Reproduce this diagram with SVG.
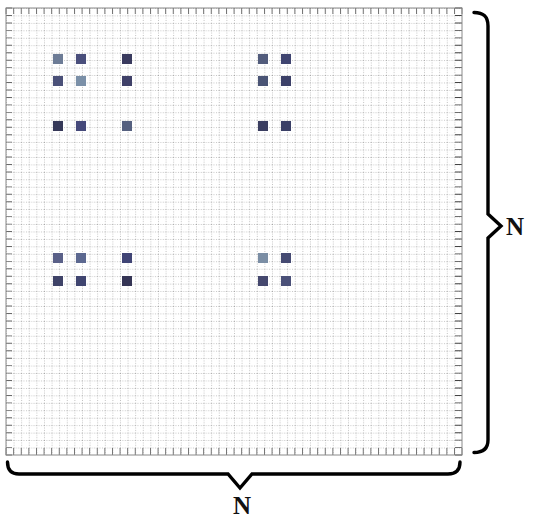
<svg xmlns="http://www.w3.org/2000/svg" width="534" height="522" viewBox="0 0 534 522">
<style>
.dot{stroke:#858585;stroke-width:0.7;stroke-dasharray:0.8 1.6;fill:none}
.tick{stroke:#6a6a6a;fill:none;stroke-dasharray:0.9 6.7}
.tickh{stroke:#6a6a6a;fill:none;stroke-dasharray:0.9 6.55}
.brace{stroke:#000;stroke-width:3.4;fill:none;stroke-linecap:round;stroke-linejoin:miter}
.lbl{font-family:"Liberation Serif","Times New Roman",serif;font-weight:bold;font-size:25px;fill:#111}
.sq rect{width:10px;height:10px}
</style>
<defs>
<pattern id="grid" patternUnits="userSpaceOnUse" x="6" y="8" width="7.6" height="7.45">
<line x1="0.3" y1="0" x2="0.3" y2="7.45" class="dot"/>
<line x1="0" y1="0.3" x2="7.6" y2="0.3" class="dot"/>
</pattern>
</defs>
<rect width="534" height="522" fill="#fff"/>
<g id="grid-board">
<rect x="6" y="8" width="456" height="447" fill="url(#grid)"/>
<line class="tick" x1="5.6" y1="11" x2="462.4" y2="11" stroke-width="6"/>
<line class="tick" x1="5.6" y1="451.5" x2="462.4" y2="451.5" stroke-width="7"/>
<line class="tickh" x1="9" y1="7.6" x2="9" y2="455.4" stroke-width="6"/>
<line class="tickh" x1="458.5" y1="7.6" x2="458.5" y2="455.4" stroke-width="7" style="stroke:#444"/>
<rect x="6" y="8" width="456" height="447" fill="none" stroke="#8a8a8a" stroke-width="1"/>
</g>
<g id="cells" class="sq">
<rect x="53" y="54" fill="#6d7c96"/>
<rect x="76" y="54" fill="#4a4f7c"/>
<rect x="122" y="54" fill="#393a5e"/>
<rect x="258" y="54" fill="#525c7c"/>
<rect x="281" y="54" fill="#3f4470"/>
<rect x="53" y="76" fill="#4a5078"/>
<rect x="76" y="76" fill="#7b90a8"/>
<rect x="122" y="76" fill="#3f4068"/>
<rect x="258" y="76" fill="#4a5475"/>
<rect x="281" y="76" fill="#3c4068"/>
<rect x="53" y="121" fill="#353858"/>
<rect x="76" y="121" fill="#45497a"/>
<rect x="122" y="121" fill="#55607f"/>
<rect x="258" y="121" fill="#3a3d60"/>
<rect x="281" y="121" fill="#3a3f66"/>
<rect x="53" y="253" fill="#5a6088"/>
<rect x="76" y="253" fill="#5c6890"/>
<rect x="122" y="253" fill="#404475"/>
<rect x="258" y="253" fill="#7b8ea5"/>
<rect x="281" y="253" fill="#454a72"/>
<rect x="53" y="276" fill="#3f4368"/>
<rect x="76" y="276" fill="#404570"/>
<rect x="122" y="276" fill="#353555"/>
<rect x="258" y="276" fill="#45486e"/>
<rect x="281" y="276" fill="#4a5078"/>
</g>
<g id="connectors">
<path class="brace" d="M474,12.5 C483,12.5 488,16 488,26 L488,214 L501,226 L488,238 L488,440 C488,449 483,452.5 474,452.5"/>
<path class="brace" d="M7.5,462 C7.5,470 11,474 19,474 L228,474 L240,488 L252,474 L448,474 C456,474 460,470 460,462"/>
</g>
<g id="label-right"><text class="lbl" x="506" y="235">N</text></g>
<g id="label-bottom"><text class="lbl" x="242" y="514" text-anchor="middle">N</text></g>
</svg>
